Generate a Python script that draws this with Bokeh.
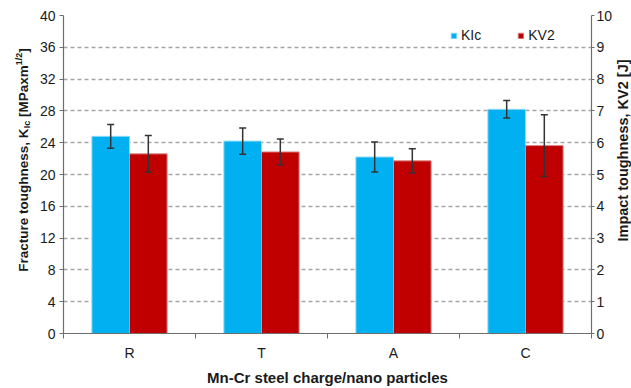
from math import pi

from bokeh.plotting import figure
from bokeh.layouts import row
from bokeh.models import (Range1d, LinearAxis, FixedTicker, ColumnDataSource,
                          Whisker, TeeHead, Label, Legend, LegendItem)
from bokeh.embed import file_html
from bokeh.resources import INLINE

# --- data -------------------------------------------------------------
charges = ["R", "T", "A", "C"]
kic = [24.8, 24.2, 22.2, 28.2]          # fracture toughness, MPa*m^1/2
kic_err = [1.5, 1.65, 1.9, 1.1]
kv2 = [5.65, 5.71, 5.43, 5.91]          # impact toughness, J
kv2_err = [0.58, 0.41, 0.38, 0.97]
left_ticks = list(range(0, 41, 4))
right_ticks = list(range(0, 11, 1))

BLUE = "#00B0F0"
RED = "#C00000"
FONT = "Liberation Sans"
AXIS_COL = "#6e6e6e"
TEXT_COL = "#1a1a1a"

H = 388
TOP, BOTTOM = 15, 335          # frame top / bottom on the page
LEFT_W = 34      # strip holding the left axis title
RIGHT_W = 16     # strip holding the right axis title
MAIN_W = 631 - LEFT_W - RIGHT_W

centers = [i + 0.5 for i in range(len(charges))]
bar_w = 0.285
off = 0.1425

kic_src = ColumnDataSource(dict(
    x=[c - off for c in centers], top=kic,
    upper=[v + e for v, e in zip(kic, kic_err)],
    lower=[v - e for v, e in zip(kic, kic_err)]))
kv2_src = ColumnDataSource(dict(
    x=[c + off for c in centers], top=kv2,
    upper=[v + e for v, e in zip(kv2, kv2_err)],
    lower=[v - e for v, e in zip(kv2, kv2_err)]))

p = figure(width=MAIN_W, height=H, output_backend="svg", toolbar_location=None,
           x_range=Range1d(0, len(charges)), y_range=Range1d(0, 40),
           min_border_left=63 - LEFT_W, min_border_right=631 - RIGHT_W - 593,
           min_border_top=TOP, min_border_bottom=H - BOTTOM)
p.extra_y_ranges = {"kv": Range1d(0, 10)}
p.outline_line_color = None
p.background_fill_color = "white"
p.border_fill_color = "white"

# grid: dashed lines between 0 and the top
p.xgrid.visible = False
p.ygrid.ticker = FixedTicker(ticks=left_ticks[1:-1])
p.ygrid.grid_line_color = "#a6a6a6"
p.ygrid.grid_line_dash = "4 3"
p.ygrid.grid_line_width = 1.3

# bars
r_kic = p.vbar(x="x", top="top", width=bar_w, source=kic_src,
               fill_color=BLUE, line_color="#8fdaf7", line_width=1)
r_kv2 = p.vbar(x="x", top="top", width=bar_w, source=kv2_src, y_range_name="kv",
               fill_color=RED, line_color="#e08a8a", line_width=1)

# error bars
for src, rng in ((kic_src, "default"), (kv2_src, "kv")):
    w = Whisker(source=src, base="x", upper="upper", lower="lower",
                line_color="#333333", line_width=1.5, level="overlay",
                upper_head=TeeHead(size=7, line_color="#333333", line_width=1.5),
                lower_head=TeeHead(size=7, line_color="#333333", line_width=1.5))
    if rng != "default":
        w.y_range_name = rng
    p.add_layout(w)

# x axis: category names at centres, tick marks at the boundaries
xa = p.xaxis[0]
xa.ticker = FixedTicker(ticks=centers, minor_ticks=list(range(len(charges) + 1)))
xa.major_label_overrides = {c: n for c, n in zip(centers, charges)}
xa.major_tick_out = 0
xa.minor_tick_line_color = AXIS_COL
xa.minor_tick_out = 5
xa.minor_tick_in = 0
xa.major_label_standoff = 6
xa.axis_label = "Mn-Cr steel charge/nano particles"
xa.axis_label_standoff = 5
xa.axis_label_text_font = FONT
xa.axis_label_text_font_size = "15px"
xa.axis_label_text_font_style = "bold"
xa.axis_label_text_color = TEXT_COL

# left axis
ya = p.yaxis[0]
ya.ticker = FixedTicker(ticks=left_ticks)
ya.minor_tick_line_color = None
ya.major_tick_out = 4
ya.major_tick_in = 0
ya.major_label_standoff = 4

# right axis
ra = LinearAxis(y_range_name="kv", ticker=FixedTicker(ticks=right_ticks))
ra.minor_tick_line_color = None
ra.major_tick_out = 3
ra.major_tick_in = 0
ra.major_label_standoff = 2
p.add_layout(ra, "right")

for ax in (xa, ya, ra):
    ax.axis_line_color = AXIS_COL
    ax.axis_line_width = 1.2
    ax.major_tick_line_color = AXIS_COL if ax is not xa else None
    ax.major_label_text_font = FONT
    ax.major_label_text_font_size = "14px"
    ax.major_label_text_color = TEXT_COL

# legend
legend = Legend(items=[LegendItem(label="KIc", renderers=[r_kic]),
                       LegendItem(label="KV2", renderers=[r_kv2])],
                orientation="horizontal", location=(387, 290),
                glyph_width=7, glyph_height=7, label_standoff=4, spacing=36,
                padding=0, margin=0, border_line_color=None,
                background_fill_alpha=0, label_text_font=FONT,
                label_text_font_size="14px", label_text_color=TEXT_COL)
p.add_layout(legend)


def strip(width):
    f = figure(width=width, height=H, output_backend="svg", toolbar_location=None,
               x_axis_type=None, y_axis_type=None,
               x_range=Range1d(0, 1), y_range=Range1d(0, 1),
               min_border=0, min_border_left=0, min_border_right=0,
               min_border_top=0, min_border_bottom=0)
    f.outline_line_color = None
    f.grid.visible = False
    f.background_fill_color = "white"
    f.border_fill_color = "white"
    return f


# left title with subscript and superscript, built from pieces
ARIAL_B = {" ": 278, "F": 611, "r": 389, "a": 556, "c": 556, "t": 333, "u": 611,
           "e": 556, "o": 611, "g": 611, "h": 611, "n": 611, "s": 556, ",": 278,
           "K": 722, "I": 278, "[": 333, "M": 833, "P": 667, "x": 556, "m": 889,
           "1": 556, "/": 278, "2": 556, "]": 333}


def text_len(s, size):
    return sum(ARIAL_B.get(ch, 556) for ch in s) * size / 1000.0


# strips share the main frame's vertical extent; y is measured from its bottom
left = strip(LEFT_W)
title_size = 13.5
small_size = 9.0
pieces = [("Fracture toughness, K", title_size, 0, 0),
          ("Ic", small_size, 3, 0),
          ("[MPaxm", title_size, 0, text_len(" ", title_size)),
          ("1/2", small_size, -5, 0),
          ("]", title_size, 0, 0)]
total = sum(text_len(s, f) + gap for s, f, _, gap in pieces)
y_pos = (BOTTOM - 161.5) - total / 2
base_x = 23
for s, f, shift, gap in pieces:
    y_pos += gap
    left.add_layout(Label(x=base_x + shift, y=y_pos, x_units="screen", y_units="screen",
                          text=s, angle=pi / 2, text_align="left",
                          text_baseline="alphabetic", text_font=FONT,
                          text_font_size=f"{f}px", text_font_style="bold",
                          text_color=TEXT_COL))
    y_pos += text_len(s, f)

right = strip(RIGHT_W)
right.add_layout(Label(x=622 - (631 - RIGHT_W), y=BOTTOM - 152, x_units="screen",
                       y_units="screen", text="Impact toughness, KV2 [J]",
                       angle=pi / 2, text_align="center", text_baseline="middle",
                       text_font=FONT, text_font_size="14.5px",
                       text_font_style="bold", text_color=TEXT_COL))

layout = row(left, p, right, spacing=0)
open("out.html", "w").write(file_html(layout, INLINE))
